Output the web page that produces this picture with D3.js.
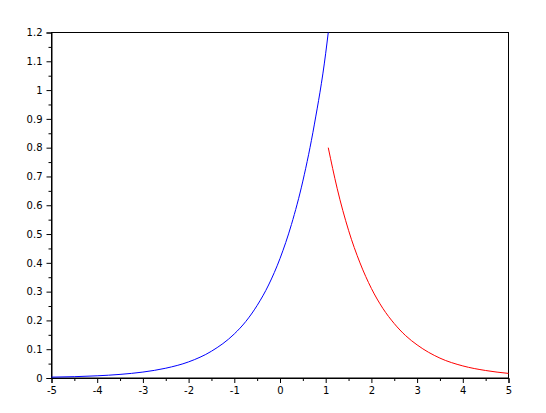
<!DOCTYPE html>
<html>
<head>
<meta charset="utf-8">
<script src="https://cdn.jsdelivr.net/npm/d3@7"></script>
<style>
  body { margin: 0; background: #fff; }
  .tick text { font-family: "DejaVu Sans", sans-serif; font-size: 10px; fill: #000; }
</style>
</head>
<body>
<div id="chart"></div>
<script>
// curve values
let blueX = [-5, -4.5, -4, -3.5, -3, -2.5, -2, -1.5, -1, -0.75, -0.5, -0.25, 0, 0.25, 0.5, 0.75, 1, 1.056];
let blueY = [0.003, 0.0046, 0.0076, 0.0125, 0.0206, 0.034, 0.056, 0.093, 0.153, 0.196, 0.252, 0.323, 0.415, 0.533, 0.684, 0.879, 1.128, 1.2];

let redX = [1.056, 1.25, 1.5, 1.75, 2, 2.25, 2.5, 2.75, 3, 3.5, 4, 4.5, 5];
let redY = [0.8, 0.659, 0.513, 0.4, 0.311, 0.242, 0.189, 0.147, 0.115, 0.069, 0.042, 0.026, 0.016];

let xTicks = [-5, -4, -3, -2, -1, 0, 1, 2, 3, 4, 5];
let yTicks = [0, 0.1, 0.2, 0.3, 0.4, 0.5, 0.6, 0.7, 0.8, 0.9, 1, 1.1, 1.2];

let svgWidth = 546;
let svgHeight = 413;

let margin = { top: 32.5, right: 37.5, bottom: 35, left: 51.5 };
let width = svgWidth - margin.left - margin.right;
let height = svgHeight - margin.top - margin.bottom;

let svg = d3.select("#chart")
  .append("svg")
  .attr("width", svgWidth)
  .attr("height", svgHeight);

let chartGroup = svg.append("g")
  .attr("transform", `translate(${margin.left}, ${margin.top})`);

let x = d3.scaleLinear().domain([-5, 5]).range([0, width]);
let y = d3.scaleLinear().domain([0, 1.2]).range([height, 0]);

// minor ticks first
chartGroup.append("g")
  .attr("transform", `translate(0, ${height})`)
  .call(d3.axisBottom(x).tickValues(d3.range(-4.5, 5, 1)).tickSize(3).tickFormat(""))
  .call(g => g.select(".domain").remove());

chartGroup.append("g")
  .call(d3.axisLeft(y).tickValues(d3.range(0.05, 1.2, 0.1)).tickSize(3).tickFormat(""))
  .call(g => g.select(".domain").remove());

// major ticks
chartGroup.append("g")
  .attr("transform", `translate(0, ${height})`)
  .call(d3.axisBottom(x).tickValues(xTicks).tickSize(5).tickPadding(4).tickFormat(d => d));

chartGroup.append("g")
  .call(d3.axisLeft(y).tickValues(yTicks).tickSize(5).tickPadding(4).tickFormat(d => d));

// frame
chartGroup.append("rect")
  .attr("width", width)
  .attr("height", height)
  .attr("fill", "none")
  .attr("stroke", "#000")
  .attr("stroke-width", 1);

let line = d3.line()
  .x(d => x(d[0]))
  .y(d => y(d[1]))
  .curve(d3.curveMonotoneX);

chartGroup.append("path")
  .datum(blueX.map((v, i) => [v, blueY[i]]))
  .attr("d", line)
  .attr("fill", "none")
  .attr("stroke", "#0000ff")
  .attr("stroke-width", 1);

chartGroup.append("path")
  .datum(redX.map((v, i) => [v, redY[i]]))
  .attr("d", line)
  .attr("fill", "none")
  .attr("stroke", "#ff0000")
  .attr("stroke-width", 1);
</script>
</body>
</html>
